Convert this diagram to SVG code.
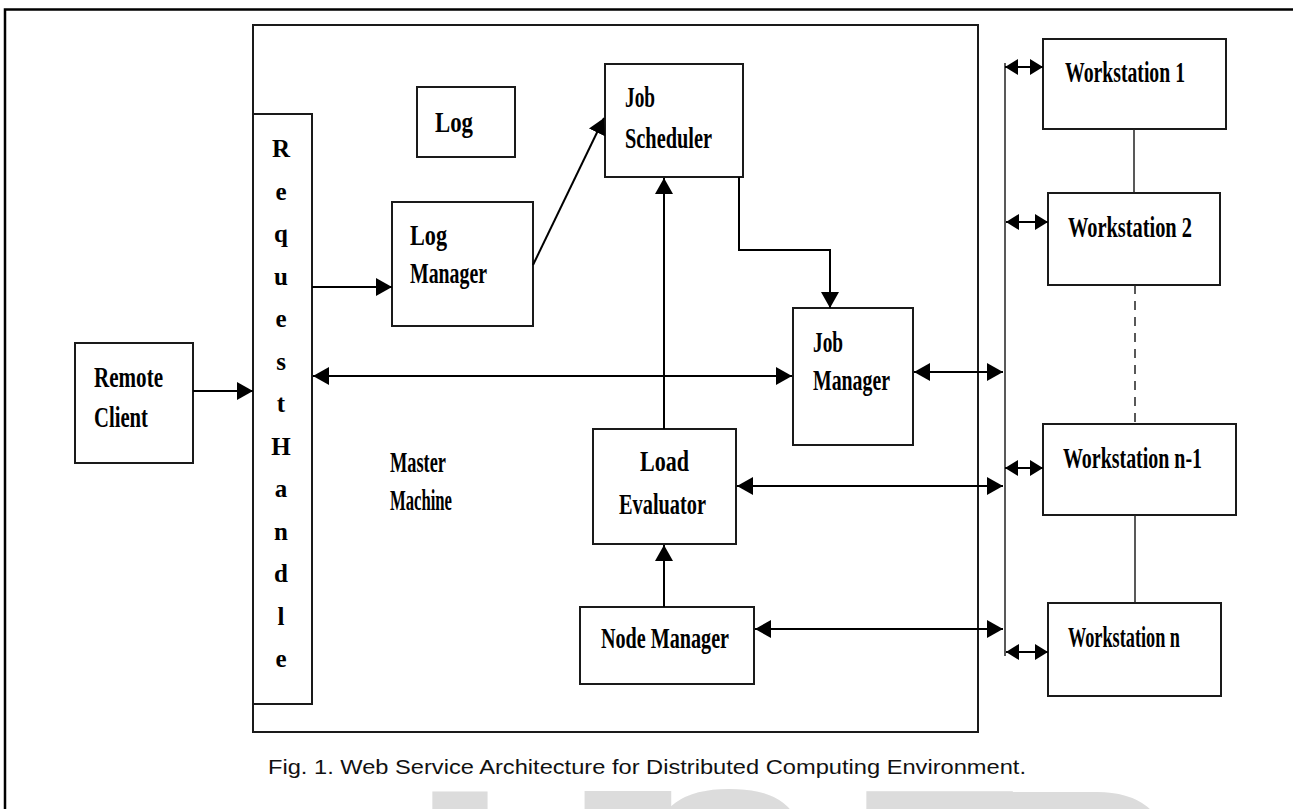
<svg xmlns="http://www.w3.org/2000/svg" width="1293" height="809" viewBox="0 0 1293 809">
<style>
.box{fill:#fff;stroke:#1a1a1a;stroke-width:2}
.lbl{font-family:"Liberation Serif","Times New Roman",serif;font-weight:bold;font-size:30px;fill:#000}
.rh{font-family:"Liberation Serif","Times New Roman",serif;font-weight:bold;font-size:25px;fill:#000}
.ln{stroke:#000;stroke-width:2;fill:none}
.thin{stroke:#222;stroke-width:1.5;fill:none}
.cap{font-family:"Liberation Sans",Arial,sans-serif;font-size:20px;fill:#111}
</style>
<defs>
<marker id="ah" markerUnits="userSpaceOnUse" markerWidth="16" markerHeight="18" refX="16" refY="9" orient="auto-start-reverse"><path d="M0,0 L16,9 L0,18 z" fill="#000"/></marker>
<marker id="ahs" markerUnits="userSpaceOnUse" markerWidth="13" markerHeight="16" refX="13" refY="8" orient="auto-start-reverse"><path d="M0,0 L13,8 L0,16 z" fill="#000"/></marker>
</defs>
<rect width="1293" height="809" fill="#fff"/>
<g id="watermark">
<text font-family="Liberation Sans,Arial,sans-serif" font-weight="bold" font-size="230" fill="#dcdcdc" stroke="#dcdcdc" stroke-width="22" y="961"><tspan x="428">I</tspan><tspan x="548">J</tspan><tspan x="652">S</tspan><tspan x="862">E</tspan><tspan x="1002">R</tspan></text>
</g>
<g id="frame"><path d="M5,809 V9.5 H1293" stroke="#000" stroke-width="2.5" fill="none"/></g>
<g id="master-machine">
<rect class="box" x="253" y="25" width="725" height="707"/>
<text class="lbl" x="390" y="472" textLength="56" lengthAdjust="spacingAndGlyphs">Master</text>
<text class="lbl" x="390" y="510" textLength="62" lengthAdjust="spacingAndGlyphs">Machine</text>
</g>
<g id="request-handler">
<rect class="box" x="253" y="114" width="59" height="590"/>
<text class="rh" text-anchor="middle" y="157"><tspan x="281">R</tspan><tspan x="281" dy="42.5">e</tspan><tspan x="281" dy="42.5">q</tspan><tspan x="281" dy="42.5">u</tspan><tspan x="281" dy="42.5">e</tspan><tspan x="281" dy="42.5">s</tspan><tspan x="281" dy="42.5">t</tspan><tspan x="281" dy="42.5">H</tspan><tspan x="281" dy="42.5">a</tspan><tspan x="281" dy="42.5">n</tspan><tspan x="281" dy="42.5">d</tspan><tspan x="281" dy="42.5">l</tspan><tspan x="281" dy="42.5">e</tspan></text>
</g>
<g id="remote-client">
<rect class="box" x="75" y="343" width="118" height="120"/>
<text class="lbl" x="94" y="387" textLength="69" lengthAdjust="spacingAndGlyphs">Remote</text>
<text class="lbl" x="94" y="427" textLength="54" lengthAdjust="spacingAndGlyphs">Client</text>
</g>
<g id="log">
<rect class="box" x="417" y="87" width="98" height="70"/>
<text class="lbl" x="435" y="132" textLength="38" lengthAdjust="spacingAndGlyphs">Log</text>
</g>
<g id="log-manager">
<rect class="box" x="392" y="202" width="141" height="124"/>
<text class="lbl" x="410" y="245" textLength="37" lengthAdjust="spacingAndGlyphs">Log</text>
<text class="lbl" x="410" y="283" textLength="77" lengthAdjust="spacingAndGlyphs">Manager</text>
</g>
<g id="job-scheduler">
<rect class="box" x="605" y="64" width="138" height="113"/>
<text class="lbl" x="625" y="107" textLength="30" lengthAdjust="spacingAndGlyphs">Job</text>
<text class="lbl" x="625" y="148" textLength="87" lengthAdjust="spacingAndGlyphs">Scheduler</text>
</g>
<g id="job-manager">
<rect class="box" x="793" y="308" width="120" height="137"/>
<text class="lbl" x="813" y="352" textLength="30" lengthAdjust="spacingAndGlyphs">Job</text>
<text class="lbl" x="813" y="390" textLength="77" lengthAdjust="spacingAndGlyphs">Manager</text>
</g>
<g id="load-evaluator">
<rect class="box" x="593" y="429" width="143" height="115"/>
<text class="lbl" x="640" y="471" textLength="49" lengthAdjust="spacingAndGlyphs">Load</text>
<text class="lbl" x="619" y="514" textLength="87" lengthAdjust="spacingAndGlyphs">Evaluator</text>
</g>
<g id="node-manager">
<rect class="box" x="580" y="607" width="174" height="77"/>
<text class="lbl" x="601" y="648" textLength="128" lengthAdjust="spacingAndGlyphs">Node Manager</text>
</g>
<g id="workstation-1">
<rect class="box" x="1043" y="39" width="183" height="90"/>
<text class="lbl" x="1065" y="82" textLength="120" lengthAdjust="spacingAndGlyphs">Workstation 1</text>
</g>
<g id="workstation-2">
<rect class="box" x="1048" y="193" width="172" height="92"/>
<text class="lbl" x="1068" y="237" textLength="124" lengthAdjust="spacingAndGlyphs">Workstation 2</text>
</g>
<g id="workstation-n-1">
<rect class="box" x="1043" y="424" width="193" height="91"/>
<text class="lbl" x="1063" y="468" textLength="139" lengthAdjust="spacingAndGlyphs">Workstation n-1</text>
</g>
<g id="workstation-n">
<rect class="box" x="1048" y="603" width="173" height="93"/>
<text class="lbl" x="1068" y="647" textLength="112" lengthAdjust="spacingAndGlyphs">Workstation n</text>
</g>
<g id="connectors">
<line class="ln" x1="193" y1="391" x2="253" y2="391" marker-end="url(#ah)"/>
<line class="ln" x1="312" y1="287" x2="392" y2="287" marker-end="url(#ah)"/>
<line class="ln" x1="533" y1="265" x2="604" y2="118" marker-end="url(#ah)"/>
<line class="ln" x1="313" y1="376" x2="792" y2="376" marker-start="url(#ah)" marker-end="url(#ah)"/>
<polyline class="ln" points="739,177 739,250 830,250 830,308" marker-end="url(#ah)"/>
<line class="ln" x1="664" y1="429" x2="664" y2="178" marker-end="url(#ah)"/>
<line class="ln" x1="664" y1="607" x2="664" y2="545" marker-end="url(#ah)"/>
<line class="ln" x1="914" y1="372" x2="1003" y2="372" marker-start="url(#ah)" marker-end="url(#ah)"/>
<line class="ln" x1="737" y1="486" x2="1003" y2="486" marker-start="url(#ah)" marker-end="url(#ah)"/>
<line class="ln" x1="755" y1="629" x2="1003" y2="629" marker-start="url(#ah)" marker-end="url(#ah)"/>
<line class="thin" x1="1005" y1="63" x2="1005" y2="656"/>
<line class="ln" x1="1005" y1="67" x2="1043" y2="67" marker-start="url(#ahs)" marker-end="url(#ahs)"/>
<line class="ln" x1="1006" y1="222" x2="1048" y2="222" marker-start="url(#ahs)" marker-end="url(#ahs)"/>
<line class="ln" x1="1005" y1="468" x2="1043" y2="468" marker-start="url(#ahs)" marker-end="url(#ahs)"/>
<line class="ln" x1="1006" y1="652" x2="1048" y2="652" marker-start="url(#ahs)" marker-end="url(#ahs)"/>
<line class="thin" x1="1134" y1="129" x2="1134" y2="193"/>
<line class="thin" x1="1135" y1="285" x2="1135" y2="424" stroke-dasharray="9,7"/>
<line class="thin" x1="1135" y1="515" x2="1135" y2="603"/>
</g>
<g id="caption">
<text class="cap" x="268" y="774" textLength="758" lengthAdjust="spacingAndGlyphs">Fig. 1. Web Service Architecture for Distributed Computing Environment.</text>
</g>
</svg>
